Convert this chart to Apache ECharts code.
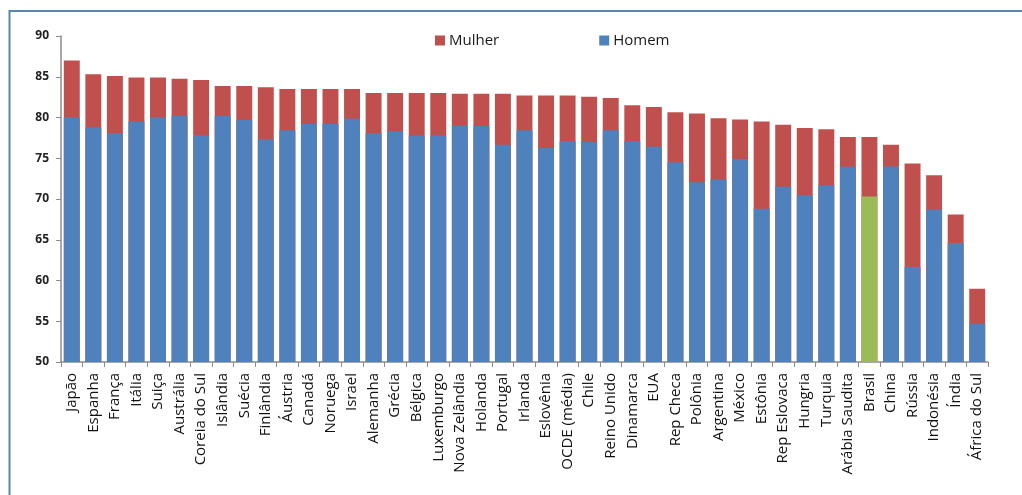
<!DOCTYPE html>
<html><head><meta charset="utf-8">
<script src="https://cdn.jsdelivr.net/npm/echarts@6/dist/echarts.min.js"></script>
<style>html,body{margin:0;padding:0;background:#fff}#c{width:1022px;height:495px}</style>
</head><body><div id="c"></div>
<script>
const categories = ["Japão","Espanha","França","Itália","Suiça","Austrália","Coreia do Sul","Islândia","Suécia","Finlândia","Áustria","Canadá","Noruega","Israel","Alemanha","Grécia","Bélgica","Luxemburgo","Nova Zelândia","Holanda","Portugal","Irlanda","Eslovênia","OCDE (média)","Chile","Reino Unido","Dinamarca","EUA","Rep Checa","Polônia","Argentina","México","Estônia","Rep Eslovaca","Hungria","Turquia","Arábia Saudita","Brasil","China","Rússia","Indonésia","Índia","África do Sul"];
const mulher = [87.0,85.3,85.1,84.9,84.9,84.75,84.6,83.85,83.85,83.7,83.5,83.5,83.5,83.5,83.0,83.0,83.0,83.0,82.9,82.9,82.9,82.7,82.7,82.7,82.55,82.4,81.5,81.3,80.65,80.5,79.9,79.75,79.5,79.1,78.7,78.55,77.6,77.6,76.65,74.35,72.9,68.1,59.0];
const homem = [80.0,78.8,78.05,79.5,80.0,80.2,77.8,80.2,79.7,77.3,78.45,79.2,79.2,79.85,78.05,78.3,77.8,77.8,79.0,78.95,76.65,78.45,76.25,77.1,77.0,78.45,77.1,76.4,74.5,72.05,72.4,74.9,68.8,71.5,70.45,71.7,73.95,70.3,74.0,61.65,68.7,64.6,54.7];
const yTicks = [50,55,60,65,70,75,80,85,90];
const highlight = "Brasil";

const RED = '#C0504D', BLUE = '#4F81BD', GREEN = '#9BBB59';
const chart = echarts.init(document.getElementById('c'), null, {renderer:'canvas'});
chart.setOption({
  animation:false,
  backgroundColor:'#fff',
  textStyle:{fontFamily:'"Open Sans", "Noto Sans", sans-serif'},
  graphic:[{type:'polyline', shape:{points:[[9.5,496],[9.5,11],[1023,11]]}, style:{stroke:'#5a86aa', lineWidth:2, fill:null}}],
  legend:{
    top:28, left:430, itemGap:100, itemWidth:10, itemHeight:10, icon:'rect',
    textStyle:{fontSize:15, color:'#1a1a1a', padding:[0,0,0,-1]},
    data:[{name:'Mulher'},{name:'Homem'}]
  },
  grid:{left:61, right:34, top:36, bottom:133, containLabel:false},
  xAxis:{
    type:'category', data:categories, boundaryGap:true,
    axisLine:{lineStyle:{color:'#8c8c8c', width:1.5}},
    axisTick:{show:true, length:5, alignWithLabel:false, lineStyle:{color:'#8c8c8c'}},
    axisLabel:{rotate:90, interval:0, fontSize:15, color:'#111', margin:11}
  },
  yAxis:{
    type:'value', min:yTicks[0], max:yTicks[yTicks.length-1], interval:5,
    splitLine:{show:false},
    axisLine:{show:true, lineStyle:{color:'#8c8c8c', width:1.5}},
    axisTick:{show:true, length:5, lineStyle:{color:'#8c8c8c'}},
    axisLabel:{fontSize:12, color:'#222', fontWeight:'bold', margin:12}
  },
  series:[
    {name:'Mulher', type:'bar', data:mulher, itemStyle:{color:RED}, barCategoryGap:'26%', barGap:'-100%', z:2},
    {name:'Homem', type:'bar', data:homem.map((v,i)=>categories[i]===highlight?{value:v,itemStyle:{color:GREEN}}:v), itemStyle:{color:BLUE}, barCategoryGap:'26%', z:3}
  ]
});
</script></body></html>
